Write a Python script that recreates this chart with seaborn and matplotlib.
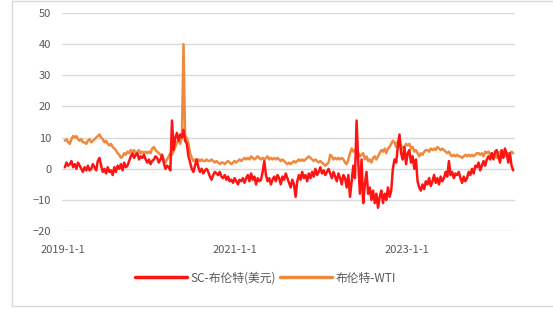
import pandas as pd
import numpy as np
import matplotlib
matplotlib.use("Agg")
import matplotlib.pyplot as plt
from matplotlib.patches import Rectangle
import seaborn as sns

# weekly values (spread, USD/bbl)
start_date = "2019-01-11"
brent_wti = [
    9, 9.5, 8.5, 8, 9.5, 10.5, 10, 10.5, 9.5, 9,
    9.5, 8.5, 8.5, 8, 9, 9.5, 8.5, 9, 9.5, 10,
    10.5, 11, 10, 9.5, 8.5, 9, 8, 7.5, 8, 7,
    6.5, 6, 5, 4.5, 3.5, 4, 5, 4.5, 5.5, 5,
    6, 5.5, 6, 5, 5.5, 6, 5, 5.5, 5, 5.5,
    5, 5.5, 5, 6.5, 7, 6, 5.5, 5, 4.5, 4,
    3, 2, 3, 4, 5, 4.5, 6, 7, 8.5, 9,
    8, 10, 40, 9, 10, 8, 5, 3.5, 2.5, 3,
    2.5, 3, 2.5, 3, 2.5, 2.5, 3, 2.5, 2.5, 3,
    2.5, 2, 2.5, 2, 1.5, 2, 2, 1.5, 2, 2.5,
    2, 1.5, 2, 2.5, 2, 2.5, 3, 2.5, 3, 3.5,
    3, 3.5, 3, 4, 3.5, 3, 3.5, 4, 3.5, 3,
    3.5, 3, 3.5, 4, 3, 3.5, 3, 3.5, 3, 3.5,
    3, 2.5, 3, 2.5, 2, 1.5, 2, 1.5, 2, 2.5,
    2, 2.5, 3, 2.5, 3, 2.5, 3, 3.5, 4, 3.5,
    3, 2.5, 3, 2.5, 2, 2.5, 2, 1.5, 1, 1.5,
    2, 4.5, 4, 3, 3.5, 3, 3.5, 3, 3.5, 3,
    2, 1.5, 3, 5, 6.5, 5.5, 6, 6.5, 5, 4,
    4.5, 5, 3, 4, 2.5, 3, 2, 3.5, 4, 3,
    4, 5, 6, 5.5, 6.5, 5, 6.5, 7, 8, 9,
    8.5, 7, 9, 8, 7.5, 6.5, 7, 8, 7.5, 8,
    6.5, 7, 5.5, 6, 5, 4, 5, 4.5, 5.5, 6,
    6, 5.5, 6.5, 6, 6.5, 6, 7, 6.5, 6, 6.5,
    6, 5.5, 5, 5.5, 4.5, 4, 4.5, 4, 4.5, 4,
    4, 3.5, 4, 4.5, 4, 4.5, 4, 4.5, 4, 4.5,
    5, 5, 4.5, 5, 4, 5.5, 5, 5.5, 4.5, 5,
    4, 4.5, 3.5, 5, 5.5, 4.5, 5, 4, 4.5, 5,
    5, 5.5, 5,
]
sc_brent = [
    0.5, 2, 1, 1.5, 2.5, 0.5, 1.5, 0, 2, 1,
    0, -1, 0.5, -0.5, 1, -0.5, 0, 1.5, 0.5, -0.5,
    2.5, 3.5, 1, -1, 0, -1.5, 0.5, -1, -0.5, -2,
    0.5, -1, 1, 0, 1.5, -0.5, 2, 0.5, 1, 2.5,
    4, 5, 3.5, 4.5, 5, 3, 4, 3.5, 4.5, 3,
    2, 3, 1.5, 2.5, 3, 4, 3.5, 2, 3, 4.5,
    2, 0, 1, 0.5, -0.5, 15.5, 6, 10, 11.5, 9,
    11, 10, 12.5, 9, 8, 4, 2, 0, -1, 1,
    3, 0.5, -1, 0, -1.5, -0.5, 0, -1, -2.5, -3.5,
    -2, -1, -1.5, -2, -1, -2.5, -3, -2, -3.5, -2.5,
    -4, -3.5, -4.5, -3, -4, -5, -3.5, -4, -3, -4.5,
    -3, -2, -4, -1.5, -3.5, -2.5, -5, -3, -4, -3.5,
    -1, 2.5, -2, -4, -3, -5, -3.5, -2.5, -4, -2,
    -3, -5, -2.5, -3.5, -1.5, -3, -4.5, -6, -3.5, -5,
    -9, -4, -2, -3.5, -1, -3, -2, -4, -1.5, -3,
    -1, -2.5, 0, -2, -1, 0.5, -1.5, -0.5, -2, -1,
    0, -1.5, -3, -1, -2.5, -4, -1.5, -3, -5, -2,
    -3, -6, -2, -9, -4, 1, -3, 15.5, 2, -8,
    3, -11, -5, -1, -8, -6, -10, -7, -11, -8,
    -12.5, -9, -7, -11, -8, -10, -6, -9, -7, 0,
    3, 2, 7, 11, 5, 3, 7, 1.5, 5, 6,
    2, 4, 0, 3, -4, -6, -7, -5, -6.5, -4,
    -5, -3, -5.5, -4, -2, -4.5, -3, -5, -2.5, -4,
    -3, -1, -2.5, 2.5, -2, -1, -3, -1.5, -2, -1,
    -3, -4.5, -2.5, -4, -3, -1, -2, 0, -1.5, 1,
    0.5, 2, -0.5, 1, 2.5, 1, 3, 4, 3, 5,
    3, 5.5, 6, 4, 2, 6, 3.5, 6.5, 5, 2,
    5, 1, -0.5,
]
series_names = ["SC-布伦特(美元)", "布伦特-WTI"]
series_colors = ["#FF1414", "#EE8A3E"]
tick_dates = ["2019-01-01", "2021-01-01", "2023-01-01"]
tick_labels = ["2019-1-1", "2021-1-1", "2023-1-1"]

dates = pd.date_range(start_date, periods=len(sc_brent), freq="7D")
df = pd.concat([
    pd.DataFrame({"date": dates, "value": sc_brent, "series": series_names[0]}),
    pd.DataFrame({"date": dates, "value": brent_wti, "series": series_names[1]}),
])

sns.set_style("white")
plt.rcParams["font.family"] = ["Noto Sans CJK SC", "DejaVu Sans"]

fig = plt.figure(figsize=(5.53, 3.09), dpi=100)
ax = fig.add_axes([0.113, 0.252, 0.818, 0.706])

sns.lineplot(data=df, x="date", y="value", hue="series", hue_order=series_names,
             palette=series_colors, linewidth=1.8, ax=ax, legend=False)
# red sits on top of orange in the source
ax.lines[0].set_zorder(4)
ax.lines[1].set_zorder(3)

ax.set_ylim(-20, 50)
ax.set_yticks(range(-20, 51, 10))
ax.set_xlim(pd.Timestamp("2019-01-01"), pd.Timestamp("2024-04-05"))
ax.set_xticks(pd.to_datetime(tick_dates))
ax.set_xticklabels(tick_labels)
ax.set_xlabel("")
ax.set_ylabel("")
ax.grid(axis="y", color="#D9D9D9", linewidth=1)
ax.grid(axis="x", visible=False)
for s in ax.spines.values():
    s.set_visible(False)
ax.tick_params(axis="both", length=0, labelsize=8, labelcolor="#595959")
ax.tick_params(axis="y", pad=8)
ax.tick_params(axis="x", pad=10)

handles = [plt.Line2D([], [], color=c, lw=2.5) for c in series_colors]
fig.legend(handles, series_names, loc="center", bbox_to_anchor=(0.48, 0.10),
           ncol=2, frameon=False, fontsize=8.5, handlelength=4.4,
           handletextpad=0.3, columnspacing=0.3, labelcolor="#595959")

fig.add_artist(Rectangle((12 / 553, 1 - 306 / 309), 1.0, 305 / 309,
                         transform=fig.transFigure, fill=False,
                         edgecolor="#D9D9D9", linewidth=1))

fig.savefig("out.png", dpi=100)
